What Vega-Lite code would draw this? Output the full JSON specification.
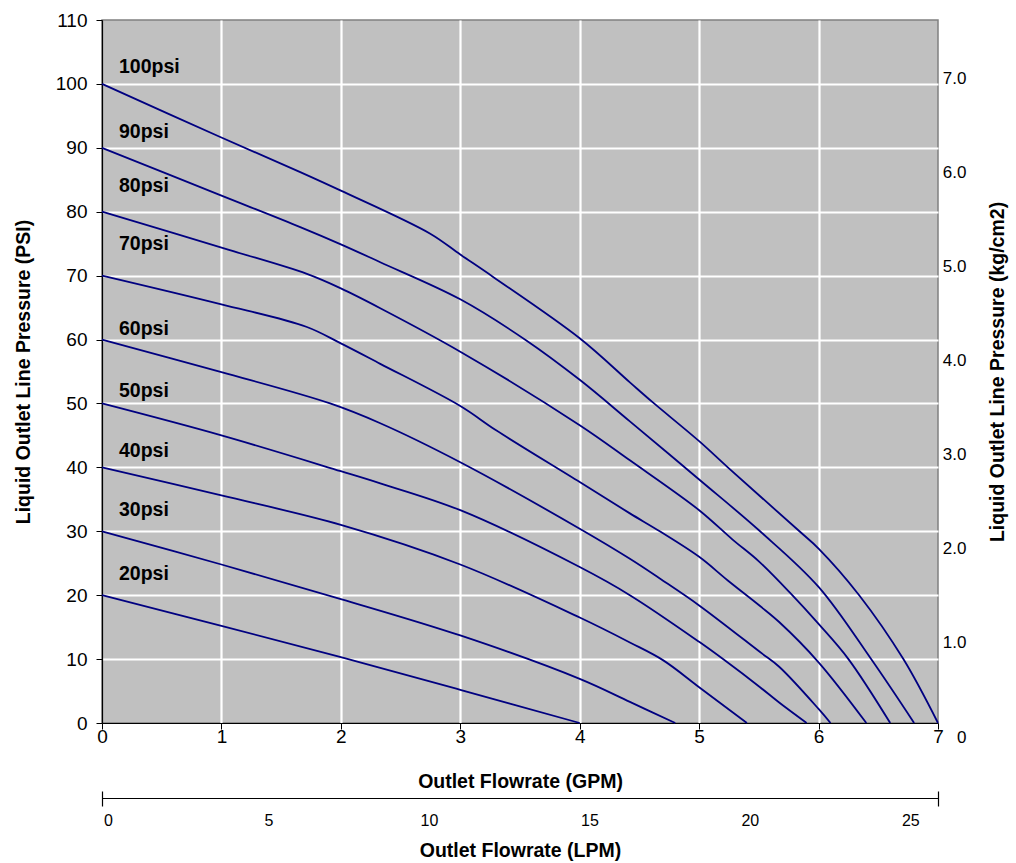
{
  "$schema": "https://vega.github.io/schema/vega-lite/v6.json",
  "width": 836,
  "height": 703,
  "autosize": {"type": "none"},
  "padding": {"left": 102, "top": 20, "right": 78, "bottom": 140},
  "background": "#FFFFFF",
  "config": {
    "font": "Liberation Sans",
    "view": {"fill": "#C0C0C0", "stroke": "#808080", "strokeWidth": 1.5},
    "axis": {"labelFont": "Liberation Sans", "titleFont": "Liberation Sans", "labelColor": "#000000", "titleColor": "#000000", "titleFontWeight": "bold", "labelOverlap": false}
  },
  "datasets": {
    "curves": [
      {"series": "100psi", "gpm": 0, "psi": 100}, {"series": "100psi", "gpm": 0.99, "psi": 91.7}, {"series": "100psi", "gpm": 1.66, "psi": 86.2}, {"series": "100psi", "gpm": 2, "psi": 83.3}, {"series": "100psi", "gpm": 2.745, "psi": 76.6}, {"series": "100psi", "gpm": 3, "psi": 73.3}, {"series": "100psi", "gpm": 3.275, "psi": 69.8}, {"series": "100psi", "gpm": 4, "psi": 60.2}, {"series": "100psi", "gpm": 4.42, "psi": 53.3}, {"series": "100psi", "gpm": 4.61, "psi": 50.2}, {"series": "100psi", "gpm": 5, "psi": 44.1}, {"series": "100psi", "gpm": 5.24, "psi": 40}, {"series": "100psi", "gpm": 5.84, "psi": 30}, {"series": "100psi", "gpm": 6, "psi": 27.3}, {"series": "100psi", "gpm": 6.34, "psi": 20}, {"series": "100psi", "gpm": 6.71, "psi": 10}, {"series": "100psi", "gpm": 7, "psi": 0},
      {"series": "90psi", "gpm": 0, "psi": 90}, {"series": "90psi", "gpm": 0.99, "psi": 82.6}, {"series": "90psi", "gpm": 1.66, "psi": 77.6}, {"series": "90psi", "gpm": 2, "psi": 74.9}, {"series": "90psi", "gpm": 2.33, "psi": 72.1}, {"series": "90psi", "gpm": 3, "psi": 66.3}, {"series": "90psi", "gpm": 3.55, "psi": 59.9}, {"series": "90psi", "gpm": 4, "psi": 53.7}, {"series": "90psi", "gpm": 4.42, "psi": 47.2}, {"series": "90psi", "gpm": 5, "psi": 38.1}, {"series": "90psi", "gpm": 5.51, "psi": 30}, {"series": "90psi", "gpm": 6, "psi": 21.3}, {"series": "90psi", "gpm": 6.44, "psi": 10}, {"series": "90psi", "gpm": 6.8, "psi": 0},
      {"series": "80psi", "gpm": 0, "psi": 80}, {"series": "80psi", "gpm": 1.07, "psi": 74.0}, {"series": "80psi", "gpm": 1.71, "psi": 70.3}, {"series": "80psi", "gpm": 2, "psi": 68.0}, {"series": "80psi", "gpm": 2.33, "psi": 64.9}, {"series": "80psi", "gpm": 3, "psi": 58.1}, {"series": "80psi", "gpm": 4, "psi": 46.6}, {"series": "80psi", "gpm": 4.42, "psi": 41.1}, {"series": "80psi", "gpm": 5, "psi": 33.3}, {"series": "80psi", "gpm": 5.28, "psi": 28.7}, {"series": "80psi", "gpm": 5.5, "psi": 25.3}, {"series": "80psi", "gpm": 5.77, "psi": 20.2}, {"series": "80psi", "gpm": 6, "psi": 15.5}, {"series": "80psi", "gpm": 6.25, "psi": 10}, {"series": "80psi", "gpm": 6.6, "psi": 0},
      {"series": "70psi", "gpm": 0, "psi": 70}, {"series": "70psi", "gpm": 1, "psi": 65.5}, {"series": "70psi", "gpm": 1.71, "psi": 62.0}, {"series": "70psi", "gpm": 2, "psi": 59.4}, {"series": "70psi", "gpm": 2.33, "psi": 56.2}, {"series": "70psi", "gpm": 3, "psi": 49.6}, {"series": "70psi", "gpm": 3.3, "psi": 45.8}, {"series": "70psi", "gpm": 4, "psi": 37.7}, {"series": "70psi", "gpm": 4.42, "psi": 32.8}, {"series": "70psi", "gpm": 4.67, "psi": 30}, {"series": "70psi", "gpm": 5, "psi": 26.0}, {"series": "70psi", "gpm": 5.24, "psi": 22.3}, {"series": "70psi", "gpm": 5.51, "psi": 18.3}, {"series": "70psi", "gpm": 5.67, "psi": 15.8}, {"series": "70psi", "gpm": 6, "psi": 9.5}, {"series": "70psi", "gpm": 6.4, "psi": 0},
      {"series": "60psi", "gpm": 0, "psi": 60}, {"series": "60psi", "gpm": 1, "psi": 54.9}, {"series": "60psi", "gpm": 1.91, "psi": 50.0}, {"series": "60psi", "gpm": 2.33, "psi": 46.9}, {"series": "60psi", "gpm": 3, "psi": 40.8}, {"series": "60psi", "gpm": 4, "psi": 30.4}, {"series": "60psi", "gpm": 4.42, "psi": 25.7}, {"series": "60psi", "gpm": 4.68, "psi": 22.5}, {"series": "60psi", "gpm": 5, "psi": 18.4}, {"series": "60psi", "gpm": 5.51, "psi": 11.1}, {"series": "60psi", "gpm": 5.67, "psi": 8.8}, {"series": "60psi", "gpm": 6, "psi": 2.2}, {"series": "60psi", "gpm": 6.1, "psi": 0},
      {"series": "50psi", "gpm": 0, "psi": 50}, {"series": "50psi", "gpm": 1, "psi": 45.0}, {"series": "50psi", "gpm": 2, "psi": 39.4}, {"series": "50psi", "gpm": 2.33, "psi": 37.5}, {"series": "50psi", "gpm": 3, "psi": 33.3}, {"series": "50psi", "gpm": 4, "psi": 24.4}, {"series": "50psi", "gpm": 4.42, "psi": 20}, {"series": "50psi", "gpm": 5, "psi": 12.7}, {"series": "50psi", "gpm": 5.2, "psi": 10}, {"series": "50psi", "gpm": 5.51, "psi": 5.6}, {"series": "50psi", "gpm": 5.67, "psi": 3.2}, {"series": "50psi", "gpm": 5.9, "psi": 0},
      {"series": "40psi", "gpm": 0, "psi": 40}, {"series": "40psi", "gpm": 1, "psi": 35.6}, {"series": "40psi", "gpm": 2, "psi": 31.0}, {"series": "40psi", "gpm": 3, "psi": 24.8}, {"series": "40psi", "gpm": 4, "psi": 16.5}, {"series": "40psi", "gpm": 4.42, "psi": 12.6}, {"series": "40psi", "gpm": 4.7, "psi": 9.8}, {"series": "40psi", "gpm": 5, "psi": 5.6}, {"series": "40psi", "gpm": 5.4, "psi": 0},
      {"series": "30psi", "gpm": 0, "psi": 30}, {"series": "30psi", "gpm": 1, "psi": 24.8}, {"series": "30psi", "gpm": 2, "psi": 19.4}, {"series": "30psi", "gpm": 3, "psi": 13.7}, {"series": "30psi", "gpm": 4, "psi": 6.9}, {"series": "30psi", "gpm": 4.42, "psi": 3.3}, {"series": "30psi", "gpm": 4.8, "psi": 0},
      {"series": "20psi", "gpm": 0, "psi": 20}, {"series": "20psi", "gpm": 1, "psi": 15.2}, {"series": "20psi", "gpm": 2, "psi": 10.3}, {"series": "20psi", "gpm": 3, "psi": 5.2}, {"series": "20psi", "gpm": 4, "psi": 0}
    ],
    "labels": [
      {"label": "100psi", "gpm": 0.142, "psi": 102.6},
      {"label": "90psi", "gpm": 0.142, "psi": 92.5},
      {"label": "80psi", "gpm": 0.142, "psi": 84.1},
      {"label": "70psi", "gpm": 0.142, "psi": 74.9},
      {"label": "60psi", "gpm": 0.142, "psi": 61.7},
      {"label": "50psi", "gpm": 0.142, "psi": 52.0},
      {"label": "40psi", "gpm": 0.142, "psi": 42.5},
      {"label": "30psi", "gpm": 0.142, "psi": 33.3},
      {"label": "20psi", "gpm": 0.142, "psi": 23.3}
    ],
    "lpm": [{"lpm": 0}, {"lpm": 5}, {"lpm": 10}, {"lpm": 15}, {"lpm": 20}, {"lpm": 25}],
    "kg": [{"kg": 0}, {"kg": 1}, {"kg": 2}, {"kg": 3}, {"kg": 4}, {"kg": 5}, {"kg": 6}, {"kg": 7}]
  },
  "layer": [
    {
      "data": {"name": "curves"},
      "mark": {"type": "line", "color": "#000080", "strokeWidth": 1.8, "interpolate": "catmull-rom"},
      "encoding": {
        "x": {
          "field": "gpm", "type": "quantitative",
          "scale": {"domain": [0, 7], "nice": false, "zero": false},
          "axis": {
            "title": "Outlet Flowrate (GPM)", "orient": "bottom",
            "values": [0, 1, 2, 3, 4, 5, 6, 7], "format": "d",
            "grid": true, "gridColor": "#FFFFFF", "gridWidth": 2.2,
            "gridOpacity": {"condition": {"test": "datum.value === 0 || datum.value === 7", "value": 0}, "value": 1},
            "domainColor": "#000000", "domainWidth": 1.2,
            "tickColor": "#000000", "tickSize": 6, "tickWidth": 1,
            "labelPadding": -2, "labelFontSize": 19, "labelFlush": false,
            "titleFontSize": 19.5, "titlePadding": 26
          }
        },
        "y": {
          "field": "psi", "type": "quantitative",
          "scale": {"domain": [0, 110], "nice": false, "zero": false},
          "axis": {
            "title": "Liquid Outlet Line Pressure (PSI)", "orient": "left",
            "values": [0, 10, 20, 30, 40, 50, 60, 70, 80, 90, 100, 110],
            "grid": true, "gridColor": "#FFFFFF", "gridWidth": 2.2,
            "gridOpacity": {"condition": {"test": "datum.value === 0 || datum.value === 110", "value": 0}, "value": 1},
            "domainColor": "#000000", "domainWidth": 1.2,
            "tickColor": "#000000", "tickSize": 6, "tickWidth": 1,
            "labelPadding": 9, "labelFontSize": 19,
            "titleFontSize": 19.5, "titlePadding": 22
          }
        },
        "detail": {"field": "series", "type": "nominal"}
      }
    },
    {
      "data": {"name": "labels"},
      "mark": {"type": "text", "align": "left", "baseline": "middle", "fontSize": 19.5, "fontWeight": "bold", "font": "Liberation Sans", "color": "#000000"},
      "encoding": {
        "x": {"field": "gpm", "type": "quantitative", "scale": {"domain": [0, 7], "nice": false, "zero": false}, "axis": null},
        "y": {"field": "psi", "type": "quantitative", "scale": {"domain": [0, 110], "nice": false, "zero": false}, "axis": null},
        "text": {"field": "label", "type": "nominal"}
      }
    },
    {
      "data": {"name": "lpm"},
      "mark": {"type": "point", "opacity": 0},
      "encoding": {
        "x": {
          "field": "lpm", "type": "quantitative",
          "scale": {"domain": [0, 26.05], "nice": false, "zero": false},
          "axis": {
            "title": "Outlet Flowrate (LPM)", "orient": "bottom", "offset": 75,
            "values": [0, 5, 10, 15, 20, 25], "format": "d",
            "grid": false, "ticks": false,
            "domain": true, "domainColor": "#000000", "domainWidth": 1.2,
            "labelOffset": 6, "labelPadding": 14, "labelFontSize": 16, "labelFlush": false,
            "titleFontSize": 19.5, "titlePadding": 13
          }
        }
      }
    },
    {
      "data": {"name": "lpm"},
      "mark": {"type": "point", "opacity": 0},
      "encoding": {
        "x": {
          "field": "lpm", "type": "quantitative",
          "scale": {"domain": [0, 26.05], "nice": false, "zero": false},
          "axis": {
            "title": null, "orient": "bottom", "offset": 68,
            "values": [0, 26.05],
            "grid": false, "labels": false, "domain": false,
            "ticks": true, "tickSize": 15, "tickColor": "#000000", "tickWidth": 1.2
          }
        }
      }
    },
    {
      "data": {"name": "kg"},
      "mark": {"type": "point", "opacity": 0},
      "encoding": {
        "y": {
          "field": "kg", "type": "quantitative",
          "scale": {"domain": [0, 7.47], "nice": false, "zero": false},
          "axis": {
            "title": "Liquid Outlet Line Pressure (kg/cm2)", "orient": "right",
            "values": [0, 1, 2, 3, 4, 5, 6, 7],
            "labelExpr": "datum.value == 0 ? '0' : format(datum.value, '.1f')",
            "grid": false, "ticks": false, "domain": false,
            "labelAlign": "right",
            "labelOffset": 14, "labelPadding": 28, "labelFontSize": 17,
            "titleFontSize": 19.5, "titleAngle": 270, "titleBaseline": "top", "titlePadding": 22
          }
        }
      }
    }
  ],
  "resolve": {"scale": {"x": "independent", "y": "independent"}}
}
